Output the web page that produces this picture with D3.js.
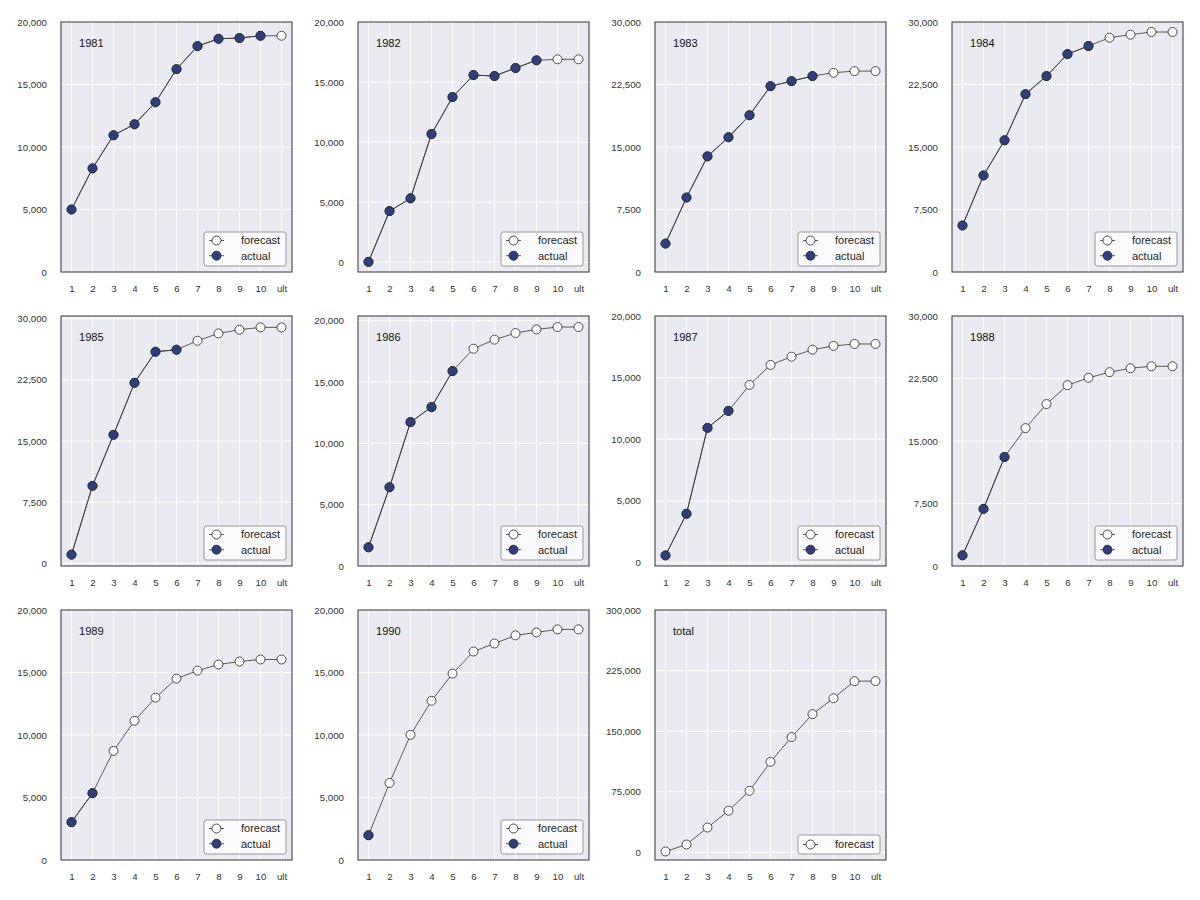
<!DOCTYPE html>
<html>
<head>
<meta charset="utf-8">
<script src="https://cdn.jsdelivr.net/npm/d3@7"></script>
<style>
  body { margin: 0; background: #fff; }
  svg { font-family: "Liberation Sans", Arial, sans-serif; }
</style>
</head>
<body>
<div id="chart"></div>
<script>
// development periods and origin years
const devLabels = ["1", "2", "3", "4", "5", "6", "7", "8", "9", "10", "ult"];
const origins = ["1981", "1982", "1983", "1984", "1985", "1986", "1987", "1988", "1989", "1990", "total"];

// cumulative values, one per development period
const cum1981 = [5000, 8290, 10940, 11820, 13580, 16230, 18070, 18660, 18720, 18900, 18900];
const cum1982 = [20, 4250, 5310, 10670, 13750, 15580, 15500, 16170, 16810, 16890, 16890];
const cum1983 = [3410, 8940, 13880, 16170, 18810, 22300, 22900, 23510, 23910, 24110, 24110];
const cum1984 = [5580, 11590, 15800, 21340, 23510, 26150, 27120, 28120, 28480, 28800, 28800];
const cum1985 = [1060, 9500, 15760, 22140, 25950, 26200, 27300, 28200, 28650, 28940, 28940];
const cum1986 = [1520, 6420, 11730, 12950, 15890, 17710, 18450, 18990, 19290, 19480, 19480];
const cum1987 = [570, 3950, 10920, 12300, 14410, 16030, 16700, 17270, 17570, 17730, 17730];
const cum1988 = [1280, 6860, 13080, 16550, 19430, 21700, 22580, 23260, 23730, 23970, 23970];
const cum1989 = [3030, 5350, 8730, 11140, 12990, 14510, 15150, 15640, 15880, 16040, 16040];
const cum1990 = [1980, 6160, 10010, 12740, 14910, 16680, 17320, 17970, 18210, 18450, 18450];
const cumTotal = [1200, 9850, 30800, 51700, 76300, 112000, 142800, 171100, 190800, 212000, 212000];

// how many of the leading points are actual (the rest is forecast)
const actualCount = [10, 9, 8, 7, 6, 5, 4, 3, 2, 1, 0];
// top of the y ticks for each panel (ticks are 0..top in four steps)
const tickTop = [20000, 20000, 30000, 30000, 30000, 20000, 20000, 30000, 20000, 20000, 300000];

const series = [cum1981, cum1982, cum1983, cum1984, cum1985, cum1986,
                cum1987, cum1988, cum1989, cum1990, cumTotal];

// layout
const width = 1200, height = 900;
const panelW = 231, panelH = 250;
const colLeft = c => 61 + c * 297;
const rowTop = r => 22 + r * 294;

const bg = "#EAEAF2";
const lineColor = "#333";
const blue = "#2E3F7F";

const svg = d3.select("#chart")
  .append("svg")
    .attr("width", width)
    .attr("height", height);

series.forEach(function(vals, i) {
  const col = i % 4, row = Math.floor(i / 4);
  const g = svg.append("g")
    .attr("transform", `translate(${colLeft(col)},${rowTop(row)})`);

  const x = d3.scaleLinear().domain([-0.5, 10.5]).range([0, panelW]);

  // autoscale with 5% margins, then widened to include the ticks
  const mn = d3.min(vals), mx = d3.max(vals), pad = 0.05 * (mx - mn);
  const lo = Math.min(0, mn - pad), hi = Math.max(tickTop[i], mx + pad);
  const y = d3.scaleLinear().domain([lo, hi]).range([panelH, 0]);
  const yTicks = d3.range(5).map(k => k * tickTop[i] / 4);

  g.append("rect")
    .attr("width", panelW).attr("height", panelH)
    .attr("fill", bg);

  // grid
  g.selectAll(".vgrid")
    .data(d3.range(11))
    .join("line")
      .attr("x1", d => x(d)).attr("x2", d => x(d))
      .attr("y1", 0).attr("y2", panelH)
      .attr("stroke", "#fff").attr("stroke-width", 1);
  g.selectAll(".hgrid")
    .data(yTicks)
    .join("line")
      .attr("x1", 0).attr("x2", panelW)
      .attr("y1", d => y(d)).attr("y2", d => y(d))
      .attr("stroke", "#fff").attr("stroke-width", 1);

  // axes
  const xAxis = g.append("g")
    .attr("transform", `translate(0,${panelH})`)
    .call(d3.axisBottom(x).tickValues(d3.range(11))
      .tickFormat(d => devLabels[d]).tickSize(0).tickPadding(13.5));
  const yAxis = g.append("g")
    .call(d3.axisLeft(y).tickValues(yTicks)
      .tickFormat(d3.format(",")).tickSize(0).tickPadding(14));
  [xAxis, yAxis].forEach(a => {
    a.select(".domain").remove();
    a.selectAll("text")
      .attr("fill", "#333")
      .style("font-size", "9.7px")
      .style("font-family", '"Liberation Sans", Arial, sans-serif');
  });

  const line = d3.line()
    .x((d, k) => x(k))
    .y(d => y(d));

  // forecast: whole curve with white markers
  g.append("path")
    .datum(vals)
    .attr("d", line)
    .attr("fill", "none")
    .attr("stroke", lineColor)
    .attr("stroke-width", 0.8);
  g.selectAll(".fc")
    .data(vals)
    .join("circle")
      .attr("cx", (d, k) => x(k))
      .attr("cy", d => y(d))
      .attr("r", 4.5)
      .attr("fill", "#fff")
      .attr("stroke", "#222")
      .attr("stroke-width", 0.8);

  // actual: leading points in blue
  const act = vals.slice(0, actualCount[i]);
  if (act.length) {
    g.append("path")
      .datum(act)
      .attr("d", line)
      .attr("fill", "none")
      .attr("stroke", lineColor)
      .attr("stroke-width", 0.8);
    g.selectAll(".ac")
      .data(act)
      .join("circle")
        .attr("cx", (d, k) => x(k))
        .attr("cy", d => y(d))
        .attr("r", 4.5)
        .attr("fill", blue)
        .attr("stroke", "#222")
        .attr("stroke-width", 0.8);
  }

  // frame
  g.append("rect")
    .attr("width", panelW).attr("height", panelH)
    .attr("fill", "none")
    .attr("stroke", "#333")
    .attr("stroke-width", 1);

  // panel label
  g.append("text")
    .attr("x", 18).attr("y", 25)
    .style("font-size", "11.1px")
    .attr("fill", "#111")
    .text(origins[i]);

  // legend
  const entries = act.length ? [["forecast", "#fff"], ["actual", blue]] : [["forecast", "#fff"]];
  const boxH = entries.length === 2 ? 34 : 19;
  const boxW = 82;
  const leg = g.append("g")
    .attr("transform", `translate(${panelW - 6 - boxW},${panelH - 6 - boxH})`);
  leg.append("rect")
    .attr("width", boxW).attr("height", boxH)
    .attr("rx", 2)
    .attr("fill", "#fff").attr("fill-opacity", 0.8)
    .attr("stroke", "#999").attr("stroke-width", 1);
  entries.forEach(function(e, k) {
    const cy = entries.length === 2 ? 8.5 + k * 15.2 : 9.5;
    leg.append("line")
      .attr("x1", 5).attr("x2", 20)
      .attr("y1", cy).attr("y2", cy)
      .attr("stroke", lineColor).attr("stroke-width", 0.8);
    leg.append("circle")
      .attr("cx", 12.5).attr("cy", cy).attr("r", 4.5)
      .attr("fill", e[1]).attr("stroke", "#222").attr("stroke-width", 0.8);
    leg.append("text")
      .attr("x", 37).attr("y", cy)
      .attr("dy", "0.36em")
      .style("font-size", "11px")
      .attr("fill", "#222")
      .text(e[0]);
  });
});
</script>
</body>
</html>
